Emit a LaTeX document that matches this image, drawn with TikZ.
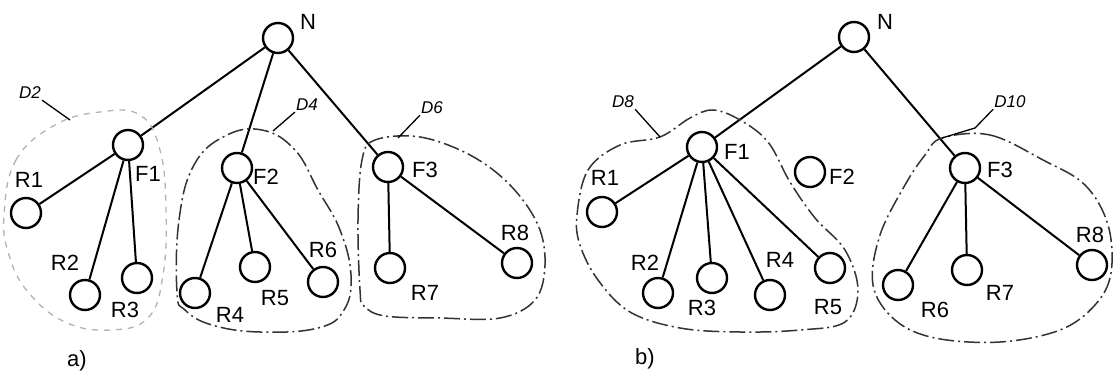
\documentclass[tikz,border=0pt]{standalone}
\usepackage{fontspec}
\setmainfont{Liberation Sans}
\begin{document}
\begin{tikzpicture}[x=1pt,y=-1pt,
  vtx/.style={circle,draw,line width=2.4pt,minimum size=30pt,inner sep=0pt},
  edge/.style={line width=2pt},
  lab/.style={font=\fontsize{22}{22}\selectfont,inner sep=0pt},
  dlab/.style={font=\itshape\fontsize{17}{17}\selectfont,inner sep=1pt},
  region/.style={line width=1.5pt,black!80,dash pattern=on 16pt off 4pt on 2pt off 4pt},
  faintregion/.style={line width=1.3pt,black!30,dash pattern=on 6pt off 6pt},
  leader/.style={line width=1.3pt}]
\useasboundingbox (0,0) rectangle (1115,374);

% ---------------- panel a ----------------
\node[vtx] (aN)  at (278,38) {};
\node[vtx] (aF1) at (128,145) {};
\node[vtx] (aF2) at (237,168) {};
\node[vtx] (aF3) at (388,167) {};
\node[vtx] (aR1) at (26,213) {};
\node[vtx] (aR2) at (85,295) {};
\node[vtx] (aR3) at (137,278) {};
\node[vtx] (aR4) at (195,293) {};
\node[vtx] (aR5) at (255,267) {};
\node[vtx] (aR6) at (323,282) {};
\node[vtx] (aR7) at (390,268) {};
\node[vtx] (aR8) at (517,263) {};

\draw[edge] (aN) -- (aF1);
\draw[edge] (aN) -- (aF2);
\draw[edge] (aN) -- (aF3);
\draw[edge] (aF1) -- (aR1);
\draw[edge] (aF1) -- (aR2);
\draw[edge] (aF1) -- (aR3);
\draw[edge] (aF2) -- (aR4);
\draw[edge] (aF2) -- (aR5);
\draw[edge] (aF2) -- (aR6);
\draw[edge] (aF3) -- (aR7);
\draw[edge] (aF3) -- (aR8);

\node[lab] (laN)  at (308,22) {N};
\node[lab] (laF1) at (148,174) {F1};
\node[lab] (laF2) at (266,177) {F2};
\node[lab] (laF3) at (425,170) {F3};
\node[lab] (laR1) at (29,180) {R1};
\node[lab] (laR2) at (65,263) {R2};
\node[lab] (laR3) at (125,310) {R3};
\node[lab] (laR4) at (230,315) {R4};
\node[lab] (laR5) at (275,298) {R5};
\node[lab] (laR6) at (323,250) {R6};
\node[lab] (laR7) at (425,293) {R7};
\node[lab] (laR8) at (515,233) {R8};
\node[lab] (lA) at (77,361) {a)};

% regions a
\draw[faintregion] plot[smooth cycle,tension=0.7] coordinates
 {(4,215) (16,160) (55,125) (100,112) (140,115) (160,150) (166,210) (163,275) (148,318) (110,330) (65,322) (28,292) (9,255)};
\draw[region] plot[smooth cycle,tension=0.7] coordinates
 {(177,292) (179,220) (194,165) (225,136) (262,130) (295,150) (318,190) (340,230) (351,275) (344,310) (318,328) (260,332) (212,325) (185,310)};
\draw[region] plot[smooth cycle,tension=0.6] coordinates
 {(360,290) (358,220) (362,160) (375,140) (420,137) (470,155) (510,185) (538,225) (545,265) (535,300) (500,318) (440,318) (385,316) (364,306)};

\coordinate (aD2j) at (70,120);
\coordinate (aD4j) at (273,131);
\coordinate (aD6j) at (398,138);
\node[dlab] (lD2) at (30,93) {D2};
\node[dlab] (lD4) at (307,105) {D4};
\node[dlab] (lD6) at (432,108) {D6};
\draw[leader] (lD2.south east) -- (aD2j);
\draw[leader] (lD4.south west) -- (aD4j);
\draw[leader] (lD6.south west) -- (aD6j);

% ---------------- panel b ----------------
\node[vtx] (bN)  at (854,37) {};
\node[vtx] (bF1) at (702,147) {};
\node[vtx] (bF2) at (810,172) {};
\node[vtx] (bF3) at (965,168) {};
\node[vtx] (bR1) at (602,212) {};
\node[vtx] (bR2) at (658,293) {};
\node[vtx] (bR3) at (712,278) {};
\node[vtx] (bR4) at (770,295) {};
\node[vtx] (bR5) at (830,268) {};
\node[vtx] (bR6) at (898,285) {};
\node[vtx] (bR7) at (967,270) {};
\node[vtx] (bR8) at (1092,265) {};

\draw[edge] (bN) -- (bF1);
\draw[edge] (bN) -- (bF3);
\draw[edge] (bF1) -- (bR1);
\draw[edge] (bF1) -- (bR2);
\draw[edge] (bF1) -- (bR3);
\draw[edge] (bF1) -- (bR4);
\draw[edge] (bF1) -- (bR5);
\draw[edge] (bF3) -- (bR6);
\draw[edge] (bF3) -- (bR7);
\draw[edge] (bF3) -- (bR8);

\node[lab] (lbN)  at (885,22) {N};
\node[lab] (lbF1) at (737,152) {F1};
\node[lab] (lbF2) at (842,177) {F2};
\node[lab] (lbF3) at (1000,170) {F3};
\node[lab] (lbR1) at (605,178) {R1};
\node[lab] (lbR2) at (645,263) {R2};
\node[lab] (lbR3) at (702,308) {R3};
\node[lab] (lbR4) at (780,260) {R4};
\node[lab] (lbR5) at (828,307) {R5};
\node[lab] (lbR6) at (935,310) {R6};
\node[lab] (lbR7) at (1000,293) {R7};
\node[lab] (lbR8) at (1090,235) {R8};
\node[lab] (lB) at (645,359) {b)};

% regions b
\draw[region] plot[smooth cycle,tension=0.6] coordinates
 {(577,215) (588,170) (620,145) (660,137) (690,118) (713,110) (740,120) (768,142) (790,182) (815,218) (845,250) (858,290) (845,322) (800,330) (740,332) (680,328) (630,312) (598,280) (580,245)};
\draw[region] plot[smooth cycle,tension=0.6] coordinates
 {(942,138) (990,135) (1043,160) (1085,185) (1108,225) (1111,273) (1095,305) (1060,330) (1000,342) (935,338) (895,320) (873,285) (880,235) (905,185) (925,155)};

\coordinate (bD8j) at (660,137);
\coordinate (bD10k) at (975,128);
\coordinate (bD10j) at (942,138);
\node[dlab] (lD8) at (623,102) {D8};
\node[dlab] (lD10) at (1010,102) {D10};
\draw[leader] (lD8.south east) -- (bD8j);
\draw[leader] (lD10.south west) -- (bD10k) -- (bD10j);
\end{tikzpicture}
\end{document}
